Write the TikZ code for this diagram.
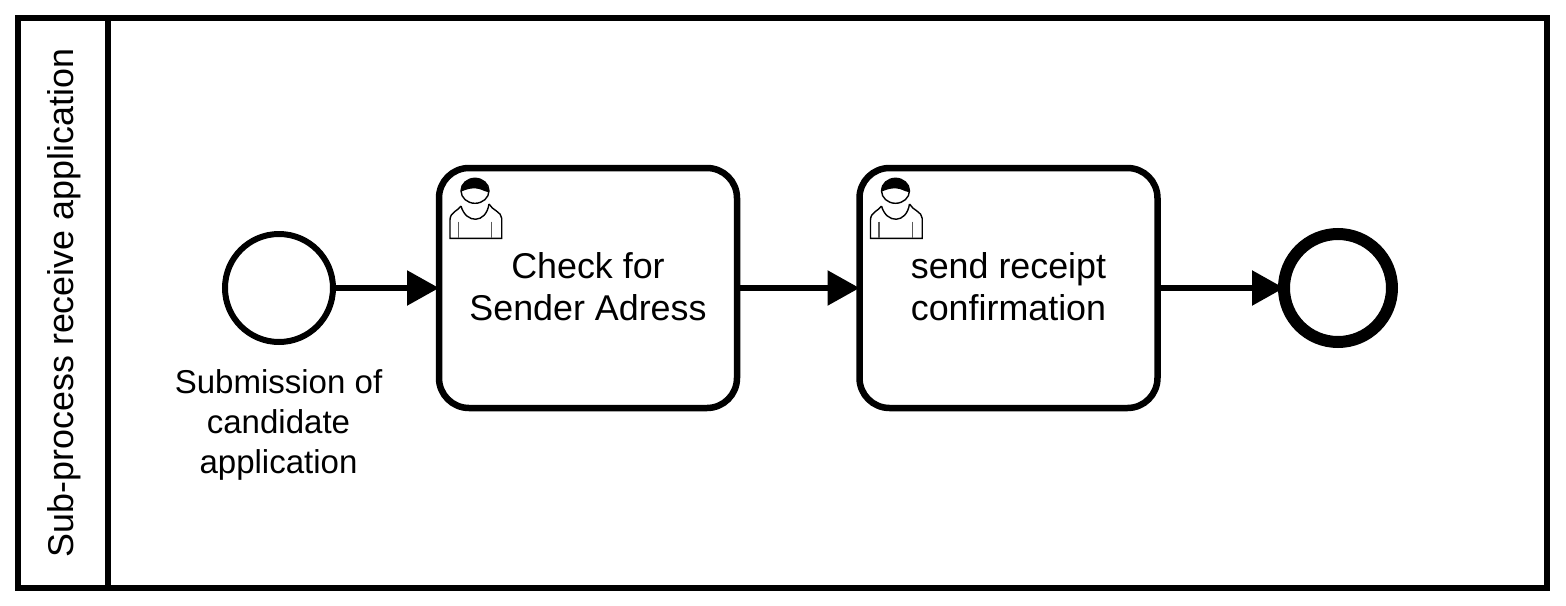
\documentclass[tikz,border=0pt]{standalone}
\usepackage{fontspec}
\setmainfont{Liberation Sans}
\usetikzlibrary{positioning, arrows.meta}

\tikzset{
    flow/.style={line width=0.056cm, -{Triangle[length=0.32cm, width=0.34cm]}},
    lanebox/.style={draw, line width=0.058cm},
    startevent/.style={draw, circle, line width=0.06cm, minimum size=1.08cm, inner sep=0, outer sep=0},
    endevent/.style={draw, circle, line width=0.12cm, minimum size=1.08cm, inner sep=0, outer sep=0},
    usertask/.style={draw, rounded corners=0.3cm, line width=0.065cm, minimum width=2.98cm, minimum height=2.4cm, inner sep=0, outer sep=0, align=center, font=\fontsize{10.2}{11.95}\selectfont},
    eventlabel/.style={align=center, inner sep=0, font=\fontsize{9.4}{11.4}\selectfont},
    lanetitle/.style={rotate=90, inner sep=0, font=\fontsize{10.2}{12}\selectfont},
    usericon/.pic={
        \draw[line width=0.014cm] (0.22, -0.38) .. controls (0.19, -0.43) and (0.11, -0.44) .. (0.11, -0.52) -- (0.11, -0.703) -- (0.627, -0.703) -- (0.627, -0.503) .. controls (0.627, -0.44) and (0.53, -0.42) .. (0.5, -0.36);
        \draw[line width=0.014cm] (0.22, -0.38) .. controls (0.27, -0.56) and (0.47, -0.56) .. (0.5, -0.36);
        \draw[line width=0.014cm, fill=white] (0.36, -0.228) ellipse (0.14 and 0.125);
        \fill (0.22, -0.237) .. controls (0.21, -0.15) and (0.29, -0.103) .. (0.36, -0.103) .. controls (0.43, -0.103) and (0.5, -0.16) .. (0.497, -0.243) .. controls (0.44, -0.24) and (0.39, -0.16) .. (0.22, -0.237) -- cycle;
        \draw[line width=0.014cm, gray!70!black] (0.193, -0.537) -- (0.193, -0.703);
        \draw[line width=0.014cm, gray!70!black] (0.527, -0.537) -- (0.527, -0.703);
    }
}

\begin{document}
\begin{tikzpicture}
    \useasboundingbox[fill=white] (0, 0) rectangle (15.66, -6.06);

    \node[lanetitle] (title) at (0.645, -3.03) {Sub-process receive application};
    \node[startevent] (start) at (2.79, -2.88) {};
    \node[eventlabel] (startlabel) at (2.785, -4.25) {Submission of\\candidate\\application};
    \node[usertask] (check) at (5.88, -2.88) {\raisebox{0.02cm}{Check for}\\\raisebox{0.02cm}{Sender Adress}};
    \node[usertask] (send) at (10.085, -2.88) {\raisebox{0.02cm}{send receipt}\\\raisebox{0.02cm}{confirmation}};
    \node[endevent] (end) at (13.38, -2.88) {};

    \draw[lanebox] (0.18, -0.18) rectangle (15.47, -5.88);
    \draw[lanebox] (1.077, -0.18) -- (1.077, -5.88);

    \pic at (check.north west) {usericon};
    \pic at (send.north west) {usericon};

    \draw[flow] (start) -- (check);
    \draw[flow] (check) -- (send);
    \draw[flow] (send) -- (end);
\end{tikzpicture}
\end{document}
